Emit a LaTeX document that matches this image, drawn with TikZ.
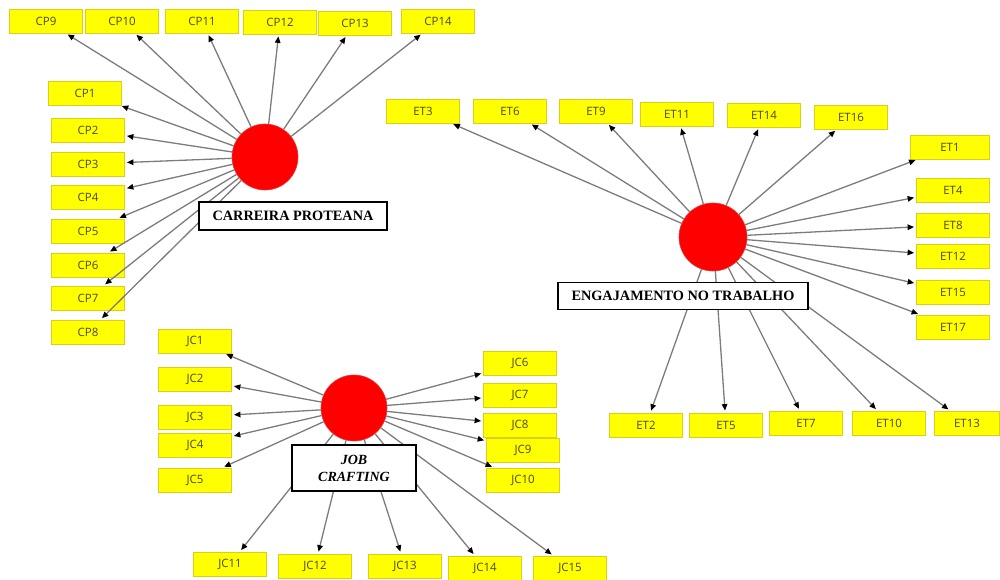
\documentclass[tikz,border=0pt]{standalone}
\usepackage{fontspec}
\setmainfont{Liberation Serif}
\newfontfamily\itemfont{Open Sans}
\usetikzlibrary{arrows.meta}
\definecolor{itemfill}{HTML}{FFFF00}
\definecolor{itemedge}{HTML}{D8CF1A}
\definecolor{itemtext}{HTML}{4A4828}
\definecolor{linkgray}{HTML}{7C7C7C}
\definecolor{latentred}{HTML}{FF0000}
\definecolor{latentedge}{HTML}{E23A3A}
\tikzset{
  ind/.style={draw=itemedge, line width=0.8pt, fill=itemfill, minimum width=73pt,
    minimum height=24pt, inner sep=0pt, font=\itemfont\fontsize{11.5}{13}\selectfont,
    text=itemtext},
  latent/.style={circle, fill=latentred, draw=latentedge, line width=0.6pt,
    minimum size=66pt, inner sep=0pt},
  lvlabel/.style={draw=black, line width=1.3pt, fill=white, inner sep=0pt,
    font=\bfseries\fontsize{14.3}{16}\selectfont, align=center},
  load/.style={draw=linkgray, line width=1.3pt, shorten >=2pt,
    -{Triangle[length=6.5pt,width=5.5pt,color=black]}}
}
\begin{document}
\begin{tikzpicture}[x=1pt,y=-1pt]
\useasboundingbox (0,0) rectangle (1000,579);

% ---------- Carreira proteana ----------
\node[latent] (cCP) at (265,157) {};
\foreach \n/\x/\y in {CP9/46/21, CP10/122/21, CP11/202/21, CP12/280/22, CP13/355/23,
    CP14/438/21, CP1/85/93, CP2/88/130, CP3/88/164, CP4/88/197, CP5/88/231,
    CP6/88/265, CP7/88/298, CP8/88/332}
  \node[ind] (\n) at (\x,\y) {\n};

% ---------- Job crafting ----------
\node[latent] (cJC) at (354,408) {};
\foreach \n/\x/\y in {JC1/195/341, JC2/195/379, JC3/195/417, JC4/195/445, JC5/195/480,
    JC6/520/363, JC7/520/395, JC8/520/425, JC9/523/450, JC10/523/480,
    JC11/230/564, JC12/315/566, JC13/405/566, JC14/485/568, JC15/570/568}
  \node[ind] (\n) at (\x,\y) {\n};

% ---------- Engajamento no trabalho ----------
\node[latent, minimum size=68pt] (cET) at (713,237) {};
\foreach \n/\x/\y in {ET3/423/111, ET6/510/111, ET9/596/111, ET11/677/114, ET14/764/115,
    ET16/851/117, ET4/953/190, ET8/953/225, ET12/953/256, ET15/953/292,
    ET17/953/327, ET2/646/425, ET5/726/425, ET7/806/423, ET10/889/423}
  \node[ind] (\n) at (\x,\y) {\n};
\node[ind, minimum width=79pt] (ET1) at (950,147) {ET1};
\node[ind, minimum width=65pt] (ET13) at (967,423) {ET13};

% ---------- loadings ----------
\foreach \n in {CP1,CP2,CP3,CP4,CP5,CP6,CP7,CP8,CP9,CP10,CP11,CP12,CP13,CP14}
  \draw[load] (cCP) -- (\n);
\foreach \n in {JC1,JC2,JC3,JC4,JC5,JC6,JC7,JC8,JC9,JC10,JC11,JC12,JC13,JC14,JC15}
  \draw[load] (cJC) -- (\n);
\foreach \n in {ET1,ET2,ET3,ET4,ET5,ET6,ET7,ET8,ET9,ET10,ET11,ET12,ET13,ET14,ET15,ET16,ET17}
  \draw[load] (cET) -- (\n);

% ---------- construct labels ----------
\node[lvlabel, minimum width=188pt, minimum height=28pt] (lCP) at (293,216) {CARREIRA PROTEANA};
\node[lvlabel, minimum width=124pt, minimum height=46pt,
  font=\bfseries\itshape\fontsize{14}{17}\selectfont] (lJC) at (354,468) {JOB\\CRAFTING};
\node[lvlabel, minimum width=250pt, minimum height=27pt] (lET) at (683,296) {ENGAJAMENTO NO TRABALHO};
\end{tikzpicture}
\end{document}
